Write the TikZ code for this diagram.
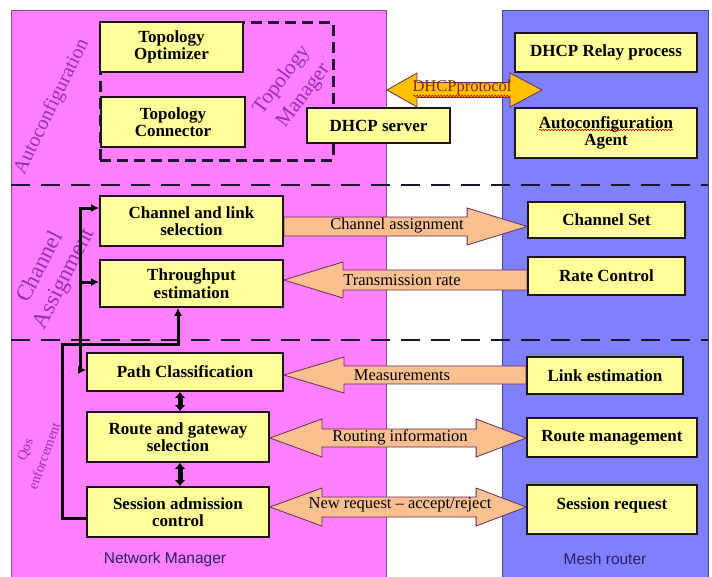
\documentclass[tikz,border=0pt]{standalone}
\usepackage{fontspec}
\setmainfont{Liberation Serif}
\newfontfamily\labsans{Liberation Sans}
\usetikzlibrary{calc,arrows.meta,decorations.pathmorphing}
\pgfdeclarelayer{bg}
\pgfdeclarelayer{mid}
\pgfsetlayers{bg,mid,main}

\definecolor{pinkbg}{RGB}{255,128,255}
\definecolor{pinkedge}{RGB}{150,70,150}
\definecolor{bluebg}{RGB}{128,128,255}
\definecolor{blueedge}{RGB}{70,70,140}
\definecolor{boxfill}{RGB}{255,255,153}
\definecolor{boxline}{RGB}{30,20,30}
\definecolor{peach}{RGB}{250,192,143}
\definecolor{gold}{RGB}{255,192,0}
\definecolor{arredge}{RGB}{100,45,90}
\definecolor{purptext}{RGB}{150,45,190}
\definecolor{navytext}{RGB}{40,30,100}
\definecolor{dhcptext}{RGB}{140,35,0}
\definecolor{sepcol}{RGB}{30,20,50}

\newcommand\bxfont{\fontsize{17}{17.5}\selectfont\bfseries}
\newcommand\arfont{\fontsize{16.5}{18}\selectfont}

% right-pointing block arrow: tail, tip, shaft half, head half, head length
\newcommand\blkR[6][blk]{%
  \coordinate (bA) at #2; \coordinate (bB) at #3;
  \filldraw[#1] ($(bA)+(0,#4)$) -- ($(bB)+(-#6,#4)$) -- ($(bB)+(-#6,#5)$) -- (bB)
    -- ($(bB)+(-#6,-#5)$) -- ($(bB)+(-#6,-#4)$) -- ($(bA)+(0,-#4)$) -- cycle;}
% left-pointing block arrow: tip, tail, shaft half, head half, head length
\newcommand\blkL[6][blk]{%
  \coordinate (bA) at #2; \coordinate (bB) at #3;
  \filldraw[#1] (bA) -- ($(bA)+(#6,#5)$) -- ($(bA)+(#6,#4)$) -- ($(bB)+(0,#4)$)
    -- ($(bB)+(0,-#4)$) -- ($(bA)+(#6,-#4)$) -- ($(bA)+(#6,-#5)$) -- cycle;}
% double block arrow: left tip, right tip, shaft half, head half, left head len, right head len
\newcommand\blkD[7][blk]{%
  \coordinate (bA) at #2; \coordinate (bB) at #3;
  \filldraw[#1] (bA) -- ($(bA)+(#6,#5)$) -- ($(bA)+(#6,#4)$) -- ($(bB)+(-#7,#4)$)
    -- ($(bB)+(-#7,#5)$) -- (bB) -- ($(bB)+(-#7,-#5)$) -- ($(bB)+(-#7,-#4)$)
    -- ($(bA)+(#6,-#4)$) -- ($(bA)+(#6,-#5)$) -- cycle;}

\tikzset{
  panelp/.style={fill=pinkbg, draw=pinkedge, line width=0.8pt},
  panelb/.style={fill=bluebg, draw=blueedge, line width=0.8pt},
  sepline/.style={draw=sepcol, line width=2.2pt, dash pattern=on 19pt off 11pt},
  tmframe/.style={draw=sepcol, line width=3pt, dash pattern=on 11pt off 6pt, inner sep=0pt},
  box/.style={draw=boxline, line width=1.8pt, fill=boxfill, align=center, font=\bxfont, inner sep=1pt},
  blk/.style={fill=peach, draw=arredge, line width=0.8pt, line join=miter},
  blkgold/.style={fill=gold, draw=arredge, line width=0.8pt, line join=miter},
  arrlab/.style={font=\arfont, text=black, inner sep=1pt},
  dhcplab/.style={font=\fontsize{16.5}{17}\selectfont, text=dhcptext, inner sep=1pt},
  rotlab/.style={text=purptext, inner sep=0pt},
  foot/.style={font=\labsans\fontsize{15.5}{17}\selectfont, text=navytext, inner sep=1pt},
  conn/.style={draw=black, line width=3pt, line join=miter, -{Latex[length=8pt,width=8pt]}},
  thickconn/.style={draw=black, line width=5pt, {Latex[length=6pt,width=11pt]}-{Latex[length=6pt,width=11pt]}},
  squig/.style={draw=red!80!black, line width=0.6pt, decorate, decoration={snake, amplitude=0.8pt, segment length=3pt}}
}

\begin{document}
\begin{tikzpicture}[x=1pt,y=1pt]
\useasboundingbox (0,0) rectangle (712,-576);

\begin{pgfonlayer}{bg}
  \fill[white] (0,0) rectangle (712,-576);
  \draw[panelp] (11,-10) rectangle (386,-577);
  \draw[panelb] (502,-10) rectangle (708,-577);
  \draw[sepline] (11,-185) -- (708,-185);
  \draw[sepline] (11,-340) -- (708,-340);
  \node[tmframe, minimum width=233pt, minimum height=138pt] (tmf) at (216.5,-91) {};
\end{pgfonlayer}

% rotated section labels
\node[rotlab, rotate=64, font=\fontsize{20}{22}\selectfont] (lauto) at (52,-107) {Autoconfiguration};
\node[rotlab, rotate=53, font=\fontsize{21}{22}\selectfont] (ltm1) at (282,-80) {Topology};
\node[rotlab, rotate=53, font=\fontsize{21}{22}\selectfont] (ltm2) at (304,-96) {Manager};
\node[rotlab, rotate=63, font=\fontsize{23}{26}\selectfont] (lca1) at (39,-266) {Channel};
\node[rotlab, rotate=63, font=\fontsize{23}{26}\selectfont] (lca2) at (65,-279) {Assignment};
\node[rotlab, rotate=70, font=\fontsize{14}{17}\selectfont] (lqos1) at (26,-450) {Qos};
\node[rotlab, rotate=70, font=\fontsize{14}{17}\selectfont] (lqos2) at (44,-456) {enforcement};

% boxes
\node[box, minimum width=143pt, minimum height=50pt] (topt) at (171.5,-47) {Topology\\Optimizer};
\node[box, minimum width=144pt, minimum height=50pt] (tcon) at (173,-122) {Topology\\Connector};
\node[box, minimum width=143pt, minimum height=35pt] (dhcps) at (378.5,-125.5) {DHCP server};
\node[box, minimum width=182pt, minimum height=39pt] (relay) at (606,-52.5) {DHCP Relay process};
\node[box, minimum width=182pt, minimum height=50pt] (agent) at (606,-133) {Autoconfiguration\\Agent};

\node[box, minimum width=183pt, minimum height=50pt] (csel) at (191.5,-221) {Channel and link\\selection};
\node[box, minimum width=183pt, minimum height=47pt] (thr) at (191.5,-283.5) {Throughput\\estimation};
\node[box, minimum width=157pt, minimum height=36pt] (cset) at (606.5,-220) {Channel Set};
\node[box, minimum width=157pt, minimum height=38pt] (rate) at (606.5,-276) {Rate Control};

\node[box, minimum width=196pt, minimum height=38pt] (path) at (185,-372) {Path Classification};
\node[box, minimum width=182pt, minimum height=50pt] (route) at (178,-437) {Route and gateway\\selection};
\node[box, minimum width=182pt, minimum height=50pt] (sess) at (178,-512) {Session admission\\control};
\node[box, minimum width=156pt, minimum height=37pt] (link) at (605,-375.5) {Link estimation};
\node[box, minimum width=170pt, minimum height=39pt] (rman) at (612,-437.5) {Route management};
\node[box, minimum width=170pt, minimum height=49pt, text height=13pt, text depth=14pt] (sreq) at (612,-509.5) {Session request};

% block arrows
\coordinate (dl) at (387,-90);
\coordinate (dr) at (542,-90);
\begin{pgfonlayer}{mid}
  \blkD[blkgold]{(dl)}{(dr)}{7.5}{17}{30}{32}
  \blkR{(csel.east|-0,-226.5)}{(cset.west|-0,-226.5)}{9.5}{18.5}{60}
  \blkL{(thr.east|-0,-280)}{(rate.west|-0,-280)}{10}{18}{59}
  \blkL{(path.east|-0,-375)}{(link.west|-0,-375)}{9}{18}{60}
  \blkD{(route.east|-0,-438)}{(rman.west|-0,-438)}{9}{19}{52}{50}
  \blkD{(sess.east|-0,-507)}{(sreq.west|-0,-507)}{10}{19}{52}{50}
\end{pgfonlayer}

% arrow labels
\node[dhcplab] (ldhcp) at (462,-88) {DHCPprotocol};
\draw[squig] ($(ldhcp.base west)+(2,-4)$) -- ($(ldhcp.base east)+(-2,-4)$);
\draw[squig] ($(agent.center)+(-67,3)$) -- ($(agent.center)+(67,3)$);
\node[arrlab] (lchan) at (397,-226) {Channel assignment};
\node[arrlab] (ltrans) at (402,-280) {Transmission rate};
\node[arrlab] (lmeas) at (402,-375) {Measurements};
\node[arrlab] (lrout) at (400,-437) {Routing information};
\node[arrlab] (lnew) at (400,-505) {New request -- accept/reject};

% black connectors
\coordinate (ja) at (80,-208);
\coordinate (jt) at (80,-282);
\coordinate (jb) at (80,-370);
\draw[conn, {Latex[length=8pt,width=8pt]}-{Latex[length=8pt,width=8pt]}] (csel.west|-ja) -- (ja) -- (jb) -- (path.west|-jb);
\draw[conn] (jt) -- (thr.west|-jt);
\coordinate (ka) at (62,-518);
\coordinate (kb) at (62,-344);
\coordinate (kc) at (178,-344);
\draw[conn] (sess.west|-ka) -- (ka) -- (kb) -- (kc) -- (thr.south-|kc);
\draw[thickconn] (path.south-|180,0) -- (route.north-|180,0);
\draw[thickconn] (route.south-|180,0) -- (sess.north-|180,0);

% footers
\node[foot] (fnm) at (165,-559) {Network Manager};
\node[foot] (fmr) at (605,-559) {Mesh router};
\end{tikzpicture}
\end{document}
